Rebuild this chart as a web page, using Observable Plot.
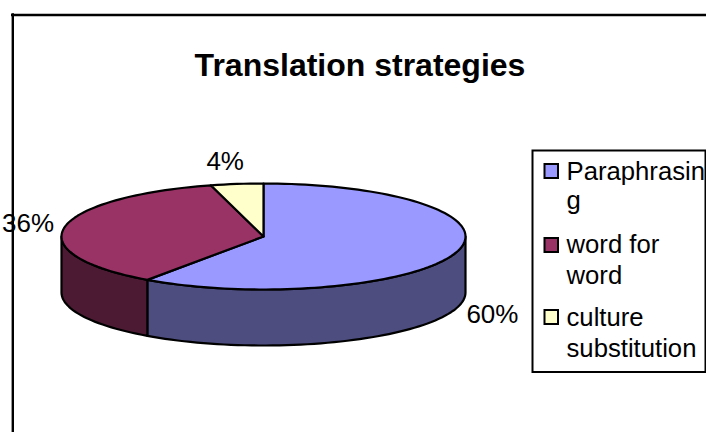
<!DOCTYPE html>
<html><head><meta charset="utf-8">
<style>html,body{margin:0;padding:0;background:#fff}svg{display:block}</style>
<script src="https://cdn.jsdelivr.net/npm/d3@7"></script>
<script src="https://cdn.jsdelivr.net/npm/@observablehq/plot@0.6"></script>
</head><body><div id="chart"></div>
<script>
const categories = ["Paraphrasing", "word for word", "culture substitution"];
const values = [59.75, 36.05, 4.2];
const topColors = ["#9999FF", "#993366", "#FFFFCC"];
const sideColors = ["#4D4D80", "#4D1A33", "#808066"];
const legendLines = [["Paraphrasin", "g"], ["word for", "word"], ["culture", "substitution"]];
const labelNudge = [2, -1, -7];
const titleText = "Translation strategies";

// layout
const W = 706, H = 432;
const cx = 263, cy = 236, rx = 202, ry = 53, depth = 56;
const font = "Liberation Sans, Arial, sans-serif";
const total = d3.sum(values);
const pt = (a, dy = 0) => ({x: cx + rx * Math.sin(a), y: cy - ry * Math.cos(a) + dy});
const arcPts = (a0, a1, dy = 0) => {
  const n = Math.max(2, Math.ceil((a1 - a0) / (Math.PI / 90)));
  return d3.range(n + 1).map(i => pt(a0 + (a1 - a0) * i / n, dy));
};
let acc = 0;
const slices = values.map((v, i) => {
  const a0 = acc / total * 2 * Math.PI;
  acc += v;
  const a1 = acc / total * 2 * Math.PI;
  return {i, v, a0, a1, mid: (a0 + a1) / 2};
});
const centre = {x: cx, y: cy};
const lineOpts = (fill) => ({x: "x", y: "y", fill, stroke: "#000", strokeWidth: 2.2, strokeLinejoin: "round", curve: "linear"});

const marks = [];
// outer frame
marks.push(Plot.ruleX([12.3], {y1: 13.3, y2: H, stroke: "#000", strokeWidth: 2.4}));
marks.push(Plot.ruleY([14.5], {x1: 11, x2: W, stroke: "#000", strokeWidth: 2.4}));
// visible side walls (front half of the ellipse)
for (const s of slices) {
  const a0 = Math.max(s.a0, Math.PI / 2), a1 = Math.min(s.a1, 3 * Math.PI / 2);
  if (a1 <= a0) continue;
  const wall = [...arcPts(a0, a1), ...arcPts(a0, a1, depth).reverse()];
  wall.push(wall[0]);
  marks.push(Plot.line(wall, lineOpts(sideColors[s.i])));
}
// top faces
for (const s of slices) {
  const face = [centre, ...arcPts(s.a0, s.a1), centre];
  marks.push(Plot.line(face, lineOpts(topColors[s.i])));
}
// percentage labels
marks.push(Plot.text(slices, {
  x: s => cx + 238 * Math.sin(s.mid) + labelNudge[s.i],
  y: s => cy - 75 * Math.cos(s.mid) + (Math.cos(s.mid) < 0 ? depth : 0),
  text: s => `${Math.round(s.v)}%`, fontSize: 26, fontFamily: font, fill: "#000"
}));
// title
marks.push(Plot.text([titleText], {x: 359.5, y: 65, text: d => d, fontSize: 32, fontWeight: "bold", fontFamily: font, fill: "#000"}));
// legend
marks.push(Plot.rect([0], {x1: 532.5, x2: 705.5, y1: 150.5, y2: 372, fill: "#fff", stroke: "#000", strokeWidth: 2}));
const swatchY = [171, 245, 317];
const lineY = [[171, 200], [244, 275], [317, 348]];
marks.push(Plot.rect(categories, {
  x1: 544.5, x2: 558, y1: (d, i) => swatchY[i] - 7, y2: (d, i) => swatchY[i] + 7,
  fill: (d, i) => topColors[i], stroke: "#000", strokeWidth: 2
}));
legendLines.forEach((lines, i) => lines.forEach((t, j) => {
  marks.push(Plot.text([t], {x: 566, y: lineY[i][j], text: d => d, textAnchor: "start", fontSize: 25.7, fontFamily: font, fill: "#000"}));
}));

const chart = Plot.plot({
  width: W, height: H, margin: 0,
  x: {domain: [0, W], range: [0, W], axis: null},
  y: {domain: [0, H], range: [0, H], axis: null},
  style: {background: "#fff"},
  marks
});
document.getElementById("chart").append(chart);
</script></body></html>
